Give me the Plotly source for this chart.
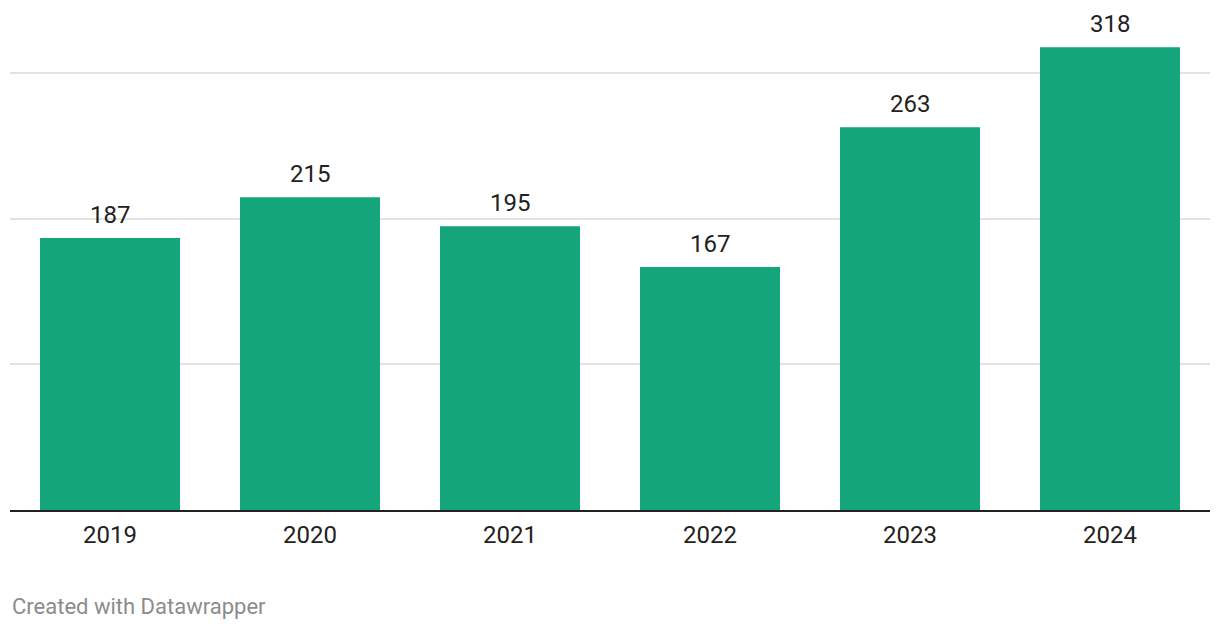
import plotly.graph_objects as go

years = ["2019", "2020", "2021", "2022", "2023", "2024"]
values = [187, 215, 195, 167, 263, 318]
grid_vals = [100, 200, 300]

BAR = "#14a57b"
FONT = "Roboto"

fig = go.Figure()
fig.add_trace(go.Bar(
    x=years, y=values, marker=dict(color=BAR, line=dict(width=0)),
    hoverinfo="skip", showlegend=False,
))

for i, v in enumerate(values):
    fig.add_annotation(
        x=i, y=v, xref="x", yref="y", text=str(v), showarrow=False,
        yanchor="bottom", yshift=7,
        font=dict(family=FONT, size=24, color="#222222"),
    )

fig.add_annotation(
    x=0, y=-0.192, xref="paper", yref="paper", xanchor="left", yanchor="middle",
    text="Created with Datawrapper", showarrow=False,
    font=dict(family=FONT, size=22, color="#8c8c8c"),
)

fig.update_layout(
    width=1220, height=630,
    margin=dict(l=10, r=10, t=10, b=120, autoexpand=False),
    paper_bgcolor="white", plot_bgcolor="white",
    bargap=0.3,
    font=dict(family=FONT, size=24, color="#222222"),
    xaxis=dict(
        type="category", range=[-0.5, len(years) - 0.5],
        showgrid=False, showline=True, linecolor="#222222", linewidth=2,
        ticks="", ticklabelstandoff=2,
        tickfont=dict(family=FONT, size=24, color="#222222"),
        fixedrange=True,
    ),
    yaxis=dict(
        range=[0, 343.6], tickvals=grid_vals, showticklabels=False,
        showgrid=True, gridcolor="#e3e3e3", gridwidth=2,
        zeroline=False, fixedrange=True,
    ),
)

fig.write_html("out.html", config={"displayModeBar": False})
